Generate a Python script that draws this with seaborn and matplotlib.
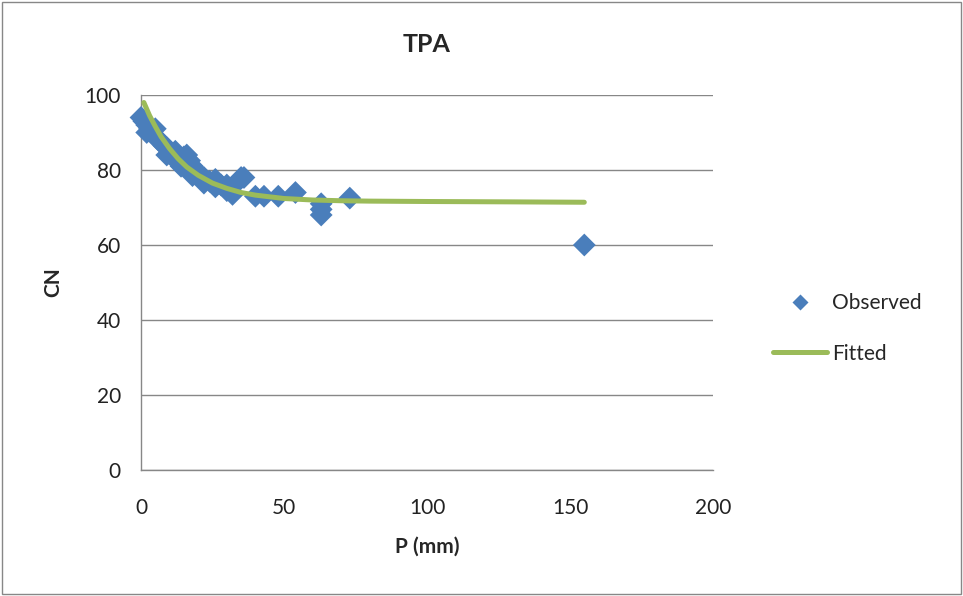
import matplotlib
matplotlib.use("Agg")
import matplotlib.pyplot as plt
from matplotlib.patches import Rectangle
from matplotlib.lines import Line2D
import pandas as pd
import seaborn as sns

# observed points
OBS_P = [0, 1, 2, 2, 3, 4, 5, 5, 6, 7, 8, 9, 9, 10, 11, 12, 12, 13, 14, 14, 15, 16, 17, 18, 18, 19,
         20, 22, 22, 24, 26, 26, 28, 30, 30, 32, 34, 35, 36, 40, 43, 48, 54, 63, 63, 63, 73, 155]
OBS_CN = [94, 93, 92, 90, 91, 90.5, 89, 91, 88, 87.5, 86.5, 86, 84, 85, 84, 83, 85, 82, 81, 83,
          83.5, 84, 82.5, 81, 78.5, 80, 79, 78, 76.5, 77, 77.5, 75.5, 76, 76, 74.5, 73.5, 77, 78, 78,
          73, 73, 73, 74, 71, 69.5, 68, 72.5, 60]

# fitted curve values
FIT_P = [1, 3, 5, 7, 10, 13, 16, 20, 25, 30, 35, 40, 50, 60, 70, 80, 100, 130, 155]
FIT_CN = [98.0, 94.5, 91.6, 88.9, 85.7, 83.0, 80.8, 78.6, 76.5, 75.1, 74.0, 73.3,
          72.4, 72.0, 71.8, 71.7, 71.6, 71.5, 71.4]

BLUE = "#4a7ebb"
GREEN = "#9bbb59"
AXIS_GRAY = "#878787"

sns.set_style("white")
plt.rcParams["font.family"] = ["Lato", "DejaVu Sans"]

fig = plt.figure(figsize=(9.63, 5.96), dpi=100)
ax = fig.add_axes([141 / 963, 1 - 470 / 596, (713 - 141) / 963, (470 - 95) / 596])

obs = pd.DataFrame({"P": OBS_P, "CN": OBS_CN})
fit = pd.DataFrame({"P": FIT_P, "CN": FIT_CN})

sns.scatterplot(data=obs, x="P", y="CN", marker="D", s=135, color=BLUE,
                edgecolor="none", ax=ax, zorder=3, legend=False, clip_on=False)
sns.lineplot(data=fit, x="P", y="CN", color=GREEN, linewidth=3.6, ax=ax,
             zorder=4, legend=False)

ax.set_xlim(0, 200)
ax.set_ylim(0, 100)
ax.set_xticks(range(0, 201, 50))
ax.set_yticks(range(0, 101, 20))
ax.yaxis.grid(True, color=AXIS_GRAY, linewidth=1)
ax.xaxis.grid(False)
for side in ["top", "right"]:
    ax.spines[side].set_visible(False)
for side in ["left", "bottom"]:
    ax.spines[side].set_color(AXIS_GRAY)
    ax.spines[side].set_linewidth(1)
ax.tick_params(axis="both", labelsize=15, colors=AXIS_GRAY, labelcolor="#222222",
               direction="out", length=6.5, width=1)
ax.tick_params(axis="x", pad=14)
ax.tick_params(axis="y", pad=8)

ax.set_xlabel("P (mm)", fontsize=15, fontweight="bold")
ax.set_ylabel("CN", fontsize=15, fontweight="bold")
ax.xaxis.set_label_coords(0.5, (470 - 537) / 375)
ax.yaxis.set_label_coords((63 - 141) / 572, 0.5)
ax.set_title("TPA", fontsize=18, fontweight="bold", pad=31)

handles = [
    Line2D([0], [0], marker="D", color="none", markerfacecolor=BLUE,
           markeredgecolor="none", markersize=8.5, label="Observed"),
    Line2D([0], [0], color=GREEN, linewidth=3.6, label="Fitted"),
]
fig.legend(handles=handles, loc="center left", bbox_to_anchor=(0.783, 0.449),
           frameon=False, fontsize=15, handlelength=2.6, handletextpad=0.25,
           labelspacing=1.45)

fig.patches.append(Rectangle((0.002, 0.003), 0.996, 0.994, transform=fig.transFigure,
                             fill=False, edgecolor=AXIS_GRAY, linewidth=1))

fig.savefig("out.png", dpi=100)
